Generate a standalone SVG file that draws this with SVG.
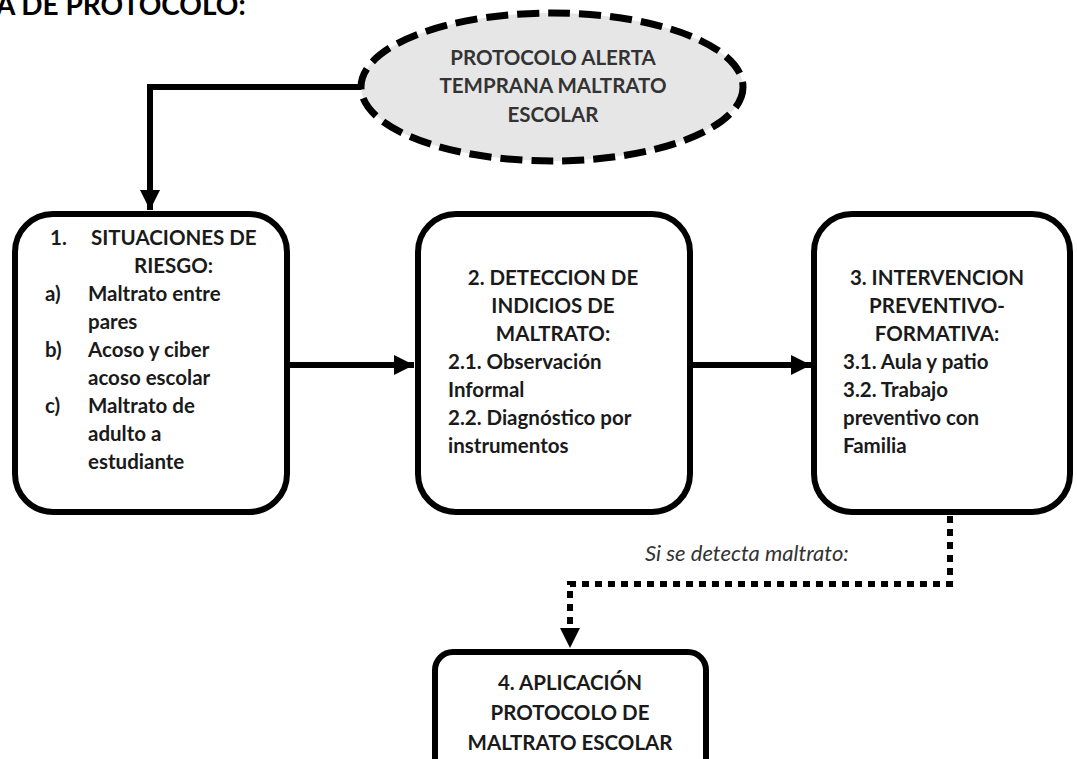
<svg xmlns="http://www.w3.org/2000/svg" width="1077" height="759" viewBox="0 0 1077 759">
<style>
.t{font-family:Lato,"Open Sans",sans-serif;font-weight:bold;font-size:20.5px;fill:#1a1a1a}
.c{text-anchor:middle}
.box{fill:#fff;stroke:#000;stroke-width:6}
.line{fill:none;stroke:#000;stroke-width:6}
.dot{fill:none;stroke:#000;stroke-width:6;stroke-dasharray:7 6}
</style>
<defs>
<marker id="ah" markerUnits="userSpaceOnUse" markerWidth="22" markerHeight="22" refX="20" refY="11" orient="auto">
<path d="M0,1 L20,11 L0,21 Z" fill="#000"/>
</marker>
</defs>
<text x="-4" y="15" style="font-family:Lato,sans-serif;font-weight:bold;font-size:28px;fill:#000">A DE PROTOCOLO:</text>
<g id="connectors">
<path class="line" d="M362,87 H150 V210" marker-end="url(#ah)"/>
<path class="line" d="M289,365 H414" marker-end="url(#ah)"/>
<path class="line" d="M692,365 H811" marker-end="url(#ah)"/>
<path class="dot" d="M950,516 V584 H570 V630"/>
<path d="M560,628 L580,628 L570,648 Z" fill="#000"/>
<text x="645" y="561" style="font-family:Lato,sans-serif;font-style:italic;font-size:22px;fill:#333">Si se detecta maltrato:</text>
</g>
<g id="n0">
<ellipse cx="552" cy="87" rx="191" ry="74" fill="#e6e6e6" stroke="#000" stroke-width="7" stroke-dasharray="22 9"/>
<text class="t c" x="553" y="65" style="fill:#333">PROTOCOLO ALERTA</text>
<text class="t c" x="553" y="93" style="fill:#333">TEMPRANA MALTRATO</text>
<text class="t c" x="553" y="122" style="fill:#333">ESCOLAR</text>
</g>
<g id="n1">
<rect class="box" x="15" y="214" width="272" height="298" rx="38"/>
<text class="t" x="50" y="245">1.</text>
<text class="t" x="91" y="245">SITUACIONES  DE</text>
<text class="t" x="134" y="273">RIESGO:</text>
<text class="t" x="45" y="301">a)</text><text class="t" x="88" y="301">Maltrato entre</text>
<text class="t" x="88" y="329">pares</text>
<text class="t" x="45" y="357">b)</text><text class="t" x="88" y="357">Acoso y ciber</text>
<text class="t" x="88" y="385">acoso  escolar</text>
<text class="t" x="45" y="413">c)</text><text class="t" x="88" y="413">Maltrato de</text>
<text class="t" x="88" y="441">adulto a</text>
<text class="t" x="88" y="469">estudiante</text>
</g>
<g id="n2">
<rect class="box" x="418" y="214" width="272" height="298" rx="38"/>
<text class="t c" x="553" y="285">2. DETECCION  DE</text>
<text class="t c" x="553" y="313">INDICIOS  DE</text>
<text class="t c" x="553" y="341">MALTRATO:</text>
<text class="t" x="448" y="369">2.1. Observación</text>
<text class="t" x="448" y="397">Informal</text>
<text class="t" x="448" y="425">2.2. Diagnóstico  por</text>
<text class="t" x="448" y="453">instrumentos</text>
</g>
<g id="n3">
<rect class="box" x="814" y="214" width="256" height="298" rx="38"/>
<text class="t c" x="937" y="285">3. INTERVENCION</text>
<text class="t c" x="937" y="313">PREVENTIVO-</text>
<text class="t c" x="937" y="341">FORMATIVA:</text>
<text class="t" x="843" y="369">3.1. Aula y patio</text>
<text class="t" x="843" y="397">3.2. Trabajo</text>
<text class="t" x="843" y="425">preventivo con</text>
<text class="t" x="843" y="453">Familia</text>
</g>
<g id="n4">
<rect class="box" x="435" y="652" width="271" height="125" rx="18"/>
<text class="t c" x="570" y="690">4. APLICACIÓN</text>
<text class="t c" x="570" y="720">PROTOCOLO DE</text>
<text class="t c" x="570" y="750">MALTRATO  ESCOLAR</text>
</g>
</svg>
